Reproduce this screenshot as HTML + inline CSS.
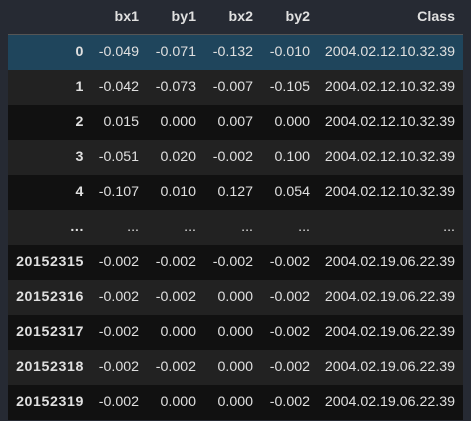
<!DOCTYPE html>
<html><head><meta charset="utf-8"><style>
body{margin:0;width:471px;height:421px;background:#262a33;overflow:hidden;font-family:"Liberation Sans",sans-serif;font-size:14.2px;color:#e0e0e0}
#tbl{position:absolute;left:8px;top:0;width:455px;height:421px}
.row{position:absolute;left:0;width:455px;height:35px}
.c{position:absolute;top:0;line-height:35px;text-align:right;white-space:nowrap}
.hdr .c,.idx{font-weight:bold}
.idx{letter-spacing:0.6px}
</style></head><body>
<div id="tbl"></div>
<script>
const headers=["","bx1","by1","bx2","by2","Class"];
const indexLabels=["0","1","2","3","4","...","20152315","20152316","20152317","20152318","20152319"];
const bx1=["-0.049","-0.042","0.015","-0.051","-0.107","...","-0.002","-0.002","-0.002","-0.002","-0.002"];
const by1=["-0.071","-0.073","0.000","0.020","0.010","...","-0.002","-0.002","0.000","-0.002","0.000"];
const bx2=["-0.132","-0.007","0.007","-0.002","0.127","...","-0.002","0.000","0.000","0.000","0.000"];
const by2=["-0.010","-0.105","0.000","0.100","0.054","...","-0.002","-0.002","-0.002","-0.002","-0.002"];
const cls=["2004.02.12.10.32.39","2004.02.12.10.32.39","2004.02.12.10.32.39","2004.02.12.10.32.39","2004.02.12.10.32.39","...","2004.02.19.06.22.39","2004.02.19.06.22.39","2004.02.19.06.22.39","2004.02.19.06.22.39","2004.02.19.06.22.39"];
const rights=[76,131,188,245,302,447];
const names=["index","bx1","by1","bx2","by2","class"];
const t=document.getElementById('tbl');
function cell(row,txt,i,extra){
  const d=document.createElement('div');
  d.className='c'+(extra?' '+extra:'');
  d.style.right=(455-rights[i])+'px';
  d.textContent=txt;
  
  
  row.appendChild(d);
}
const h=document.createElement('div');
h.className='row hdr';h.style.top='0px';h.style.height='34px';h.style.borderBottom='1px solid #555';


headers.forEach((x,i)=>cell(h,x,i));
t.appendChild(h);
for(let r=0;r<indexLabels.length;r++){
  const row=document.createElement('div');
  row.className='row';row.style.top=(35+r*35)+'px';
  row.style.background=r===0?'#1f455c':(r%2?'#222222':'#111111');
  
  
  const vals=[indexLabels[r],bx1[r],by1[r],bx2[r],by2[r],cls[r]];
  vals.forEach((v,i)=>cell(row,v,i,i===0?'idx':''));
  t.appendChild(row);
}
</script>
</body></html>
